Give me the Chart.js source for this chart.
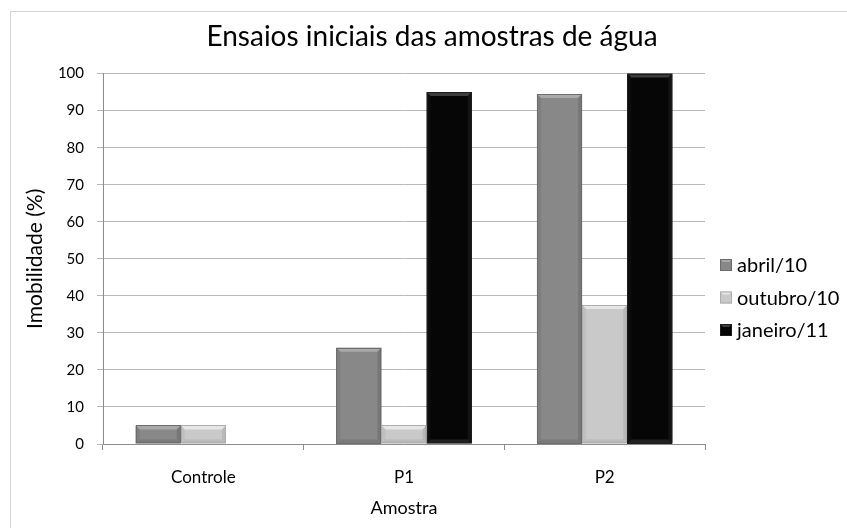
<!DOCTYPE html>
<html>
<head>
<meta charset="utf-8">
<script src="https://cdn.jsdelivr.net/npm/chart.js@4/dist/chart.umd.min.js"></script>
<style>
  html, body { margin: 0; padding: 0; background: #ffffff; }
  #wrap { position: relative; width: 847px; height: 528px; overflow: hidden; }
  #frame { position: absolute; left: 10px; top: 11px; width: 900px; height: 600px;
           border: 1px solid #d4d4d4; box-sizing: border-box; }
  #c { position: absolute; left: 0; top: 0; }
</style>
</head>
<body>
<div id="wrap">
  <div id="frame"></div>
  <canvas id="c" width="847" height="528"></canvas>
</div>
<script>
// Imobilidade (%) por amostra e por campanha
const categories = ['Controle', 'P1', 'P2'];
const seriesNames = ['abril/10', 'outubro/10', 'janeiro/11'];
const abril = [5, 26, 94.5];
const outubro = [5, 5, 37.5];
const janeiro = [0, 95, 100];
const yTicks = [0, 10, 20, 30, 40, 50, 60, 70, 80, 90, 100];

const FONT = 'Lato, "Open Sans", sans-serif';

// fill, top highlight, side shade
const palette = [
  { fill: '#888888', light: '#a9a9a9', dark: '#6c6c6c' },
  { fill: '#c9c9c9', light: '#e6e6e6', dark: '#adadad' },
  { fill: '#060606', light: '#3c3c3c', dark: '#1c1c1c' }
];

// Bevelled bar faces, drawn over each bar the library has laid out
const bevelPlugin = {
  id: 'bevel',
  afterDatasetsDraw(chart) {
    const ctx = chart.ctx;
    chart.data.datasets.forEach((ds, di) => {
      const meta = chart.getDatasetMeta(di);
      const p = palette[di];
      meta.data.forEach(bar => {
        const h = bar.base - bar.y;
        if (h < 1) return;
        const l = bar.x - bar.width / 2, r = bar.x + bar.width / 2;
        const t = bar.y, b = bar.base;
        const e = Math.min(4, h / 2);
        ctx.save();
        // top face
        ctx.fillStyle = p.light;
        ctx.beginPath();
        ctx.moveTo(l, t); ctx.lineTo(r, t); ctx.lineTo(r - e, t + e); ctx.lineTo(l + e, t + e);
        ctx.closePath(); ctx.fill();
        // right side shade
        ctx.fillStyle = p.dark;
        ctx.beginPath();
        ctx.moveTo(r, t); ctx.lineTo(r, b); ctx.lineTo(r - e, b - e); ctx.lineTo(r - e, t + e);
        ctx.closePath(); ctx.globalAlpha = 0.6; ctx.fill();
        // left side shade
        ctx.beginPath();
        ctx.moveTo(l, t); ctx.lineTo(l + e, t + e); ctx.lineTo(l + e, b - e); ctx.lineTo(l, b);
        ctx.closePath(); ctx.globalAlpha = 0.35; ctx.fill();
        // bottom face
        ctx.globalAlpha = 0.5;
        ctx.fillStyle = di === 2 ? p.light : p.dark;
        ctx.beginPath();
        ctx.moveTo(l, b); ctx.lineTo(l + e, b - e); ctx.lineTo(r - e, b - e); ctx.lineTo(r, b);
        ctx.closePath(); ctx.fill();
        ctx.globalAlpha = 1;
        ctx.strokeStyle = p.dark;
        ctx.lineWidth = 1;
        ctx.strokeRect(Math.round(l) + 0.5, Math.round(t) + 0.5, Math.round(r - l) - 1, Math.round(b - t) - 1);
        ctx.restore();
      });
    });
  }
};

// Legend to the right of the plot, built from the datasets
const sideLegend = {
  id: 'sideLegend',
  afterDraw(chart, args, opts) {
    const ctx = chart.ctx;
    ctx.save();
    ctx.font = opts.fontSize + 'px ' + FONT;
    ctx.textBaseline = 'middle';
    ctx.textAlign = 'left';
    chart.data.datasets.forEach((ds, i) => {
      const cy = opts.y + i * opts.step;
      const p = palette[i];
      const x = opts.x, s = opts.box;
      ctx.fillStyle = p.fill;
      ctx.fillRect(x, cy - s / 2, s, s);
      ctx.fillStyle = p.light;
      ctx.beginPath();
      ctx.moveTo(x, cy - s / 2); ctx.lineTo(x + s, cy - s / 2);
      ctx.lineTo(x + s - 3, cy - s / 2 + 3); ctx.lineTo(x + 3, cy - s / 2 + 3);
      ctx.closePath(); ctx.fill();
      ctx.strokeStyle = p.dark;
      ctx.lineWidth = 1;
      ctx.strokeRect(x + 0.5, cy - s / 2 + 0.5, s - 1, s - 1);
      ctx.fillStyle = '#000000';
      ctx.fillText(ds.label, x + s + 5, cy + 1);
    });
    ctx.restore();
  }
};

const seriesValues = [abril, outubro, janeiro];

new Chart(document.getElementById('c'), {
  type: 'bar',
  data: {
    labels: categories,
    datasets: seriesNames.map((name, i) => ({
      label: name,
      data: seriesValues[i],
      backgroundColor: palette[i].fill,
      borderWidth: 0,
      categoryPercentage: 0.675,
      barPercentage: 1.0
    }))
  },
  plugins: [bevelPlugin, sideLegend],
  options: {
    responsive: false,
    animation: false,
    devicePixelRatio: 1,
    layout: { padding: { left: 17, right: 0, top: 0, bottom: 0 } },
    plugins: {
      legend: { display: false },
      tooltip: { enabled: false },
      title: {
        display: true,
        text: 'Ensaios iniciais das amostras de água',
        color: '#000000',
        font: { family: FONT, size: 28, weight: 'normal' },
        padding: { top: 20, bottom: 20 }
      },
      sideLegend: { x: 720, y: 265, step: 32.5, box: 12, fontSize: 20 }
    },
    scales: {
      x: {
        grid: { display: true, drawOnChartArea: false, drawTicks: true, tickLength: 6, color: '#8c8c8c', offset: true },
        border: { display: true, color: '#8c8c8c', width: 1 },
        ticks: { color: '#000000', font: { family: FONT, size: 17 }, padding: 17 },
        title: { display: true, text: 'Amostra', color: '#000000', font: { family: FONT, size: 18 }, padding: { top: 0, bottom: 9 } },
        afterFit(scale) { scale.height = 84; }
      },
      y: {
        min: 0, max: 100,
        afterBuildTicks(scale) { scale.ticks = yTicks.map(v => ({ value: v })); },
        grid: { color: '#b8b8b8', lineWidth: 1, tickLength: 6, drawTicks: true },
        border: { display: true, color: '#8c8c8c', width: 1 },
        ticks: { color: '#000000', font: { family: FONT, size: 15 }, padding: 13 },
        title: { display: true, text: 'Imobilidade (%)', color: '#000000', font: { family: FONT, size: 21 }, padding: { top: 6, bottom: 0 } },
        afterFit(scale) { scale.width = 86; }
      },
      side: {
        position: 'right',
        display: true,
        grid: { display: false },
        border: { display: false },
        ticks: { display: false },
        afterFit(scale) { scale.width = 142; }
      }
    }
  }
});
</script>
</body>
</html>
